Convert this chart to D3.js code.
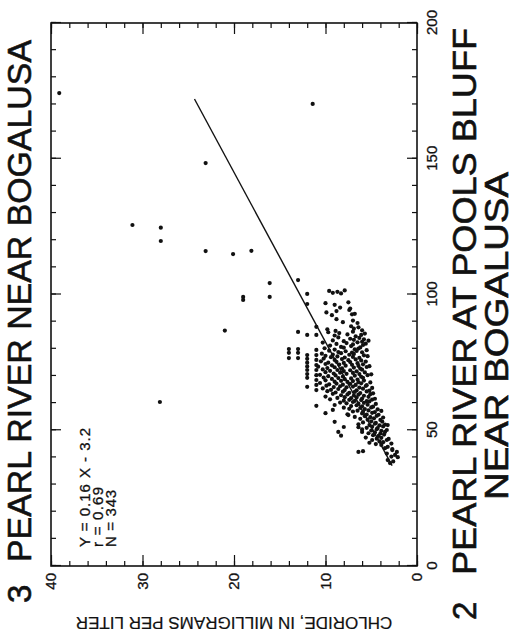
<!DOCTYPE html>
<html>
<head>
<meta charset="utf-8">
<script src="https://cdn.jsdelivr.net/npm/d3@7"></script>
<style>
  body { margin: 0; background: #fff; }
  svg { display: block; }
  text { font-family: "Liberation Sans", Arial, Helvetica, sans-serif; fill: #111; }
  .title { stroke: #111; stroke-width: 0.6; }
</style>
</head>
<body>
<svg id="chart" width="514" height="634"></svg>
<script>
// Chloride, in mg/L: [Pearl River at Pools Bluff (X), Pearl River near Bogalusa (Y)]
const poolsTicks = [0, 50, 100, 150, 200];
const bogalusaTicks = [0, 10, 20, 30, 40];

const isolatedSamples = [
  [174.2, 39.1], [170.2, 11.4], [148.4, 23.1], [125.6, 31.1], [124.6, 28.0],
  [119.7, 28.0], [116.0, 23.1], [114.9, 20.1], [116.1, 18.1], [104.2, 16.1],
  [105.3, 13.0], [99.1, 19.0], [98.0, 19.0], [99.1, 16.1], [86.7, 21.0],
  [60.4, 28.1]
];

// samples reported to the whole milligram
const wholeNumberSamples = [
  [79.9, 14], [78.5, 14], [76.6, 14],
  [86.2, 13], [79.9, 13], [78.5, 13], [76.6, 13],
  [100.2, 12], [96.5, 12], [85.1, 12], [77.7, 12], [76.3, 12], [74.9, 12],
  [73.5, 12], [72.2, 12], [70.7, 12], [69.3, 12], [66.0, 12],
  [88.1, 11], [85.1, 11], [79.6, 11], [77.7, 11], [75.9, 11], [74.0, 11],
  [72.2, 11], [70.3, 11], [68.5, 11], [66.7, 11], [64.8, 11], [59.0, 11]
];

const clusterSamples = [
  [101.3, 9.6], [100.6, 9.2], [101.0, 8.7], [100.4, 8.3], [101.5, 7.9],
  [96.8, 10], [96.2, 9], [97.1, 7.5],
  [95.2, 8.4], [94.8, 7.3],
  [93.9, 8.8], [94.3, 7.4],
  [93.4, 9.9], [92.7, 7.1], [92.4, 9.3], [92.9, 6.8],
  [90.9, 8.8],
  [89.8, 8.1], [90.4, 7.0], [89.5, 6.5],
  [88.3, 7.2], [87.9, 6.4],
  [87.2, 9.8], [86.6, 8.9], [87.4, 6.9], [86.8, 6.0],
  [86.1, 9.7], [85.8, 8.5], [86.3, 7.0], [85.6, 5.7],
  [84.9, 9.0], [85.3, 7.6], [84.6, 6.7], [85.1, 6.1],
  [84.2, 8.6], [83.7, 7.3], [84.0, 6.3], [83.5, 5.8],
  [83.1, 9.2], [82.8, 8.0], [83.3, 6.9], [82.6, 6.0], [83.0, 5.3],
  [82.3, 10.3], [81.8, 8.8], [82.1, 7.7], [81.6, 7.0], [82.4, 6.5], [81.9, 5.6],
  [81.2, 9.5], [80.7, 8.3], [81.0, 7.2], [80.5, 6.2], [81.4, 5.9],
  [80.2, 10.1], [79.7, 9.0], [80.4, 8.0], [79.8, 6.8], [80.1, 6.4], [79.5, 5.5],
  [79.3, 9.6], [78.8, 8.6], [79.1, 7.8], [78.6, 7.1], [79.2, 6.6], [78.7, 6.0],
  [78.2, 10.4], [77.9, 9.2], [78.4, 8.3], [77.8, 7.4], [78.1, 6.9], [77.6, 5.8],
  [77.4, 10], [76.9, 9.4], [77.2, 8.7], [76.8, 7.9], [77.0, 7.0], [76.7, 6.3], [77.3, 5.4],
  [76.4, 10.2], [75.9, 9.0], [76.2, 8.2], [75.8, 7.5], [76.1, 6.7], [75.7, 6.1],
  [75.4, 10.5], [74.9, 9.7], [75.2, 8.8], [74.8, 8.0], [75.1, 7.3], [74.7, 6.5], [75.3, 5.6],
  [74.4, 10], [73.9, 9.3], [74.2, 8.5], [73.8, 7.8], [74.1, 7.1], [73.7, 6.4], [74.3, 5.9], [73.6, 5.2],
  [73.4, 10.8], [72.9, 9.8], [73.2, 9.0], [72.8, 8.2], [73.1, 6.9], [72.7, 6.2], [73.3, 5.5],
  [72.4, 10.3], [71.9, 9.5], [72.2, 8.7], [71.8, 8.0], [72.1, 7.3], [71.7, 6.6], [72.3, 6.0],
  [71.4, 10], [70.9, 9.1], [71.2, 8.4], [70.8, 7.7], [71.1, 7.0], [70.7, 6.3], [71.3, 5.7], [70.6, 5.0],
  [70.4, 10.6], [69.9, 9.7], [70.2, 8.9], [69.8, 8.1], [70.1, 6.8], [69.7, 6.1], [70.3, 5.4],
  [69.4, 10.2], [68.9, 9.3], [69.2, 8.6], [68.8, 7.9], [69.1, 7.2], [68.7, 6.5], [69.3, 5.9],
  [68.4, 10], [67.9, 9.0], [68.2, 8.3], [67.8, 7.6], [68.1, 7.0], [67.7, 6.4], [68.3, 5.8], [67.6, 5.1],
  [67.4, 10.6], [66.9, 9.6], [67.2, 8.8], [66.8, 8.1], [67.1, 7.3], [66.7, 6.7], [67.3, 6.1], [66.6, 5.5],
  [66.4, 9.9], [65.9, 9.1], [66.2, 8.4], [65.8, 7.7], [66.1, 7.0], [65.7, 6.3], [66.3, 5.6], [65.6, 4.9],
  [65.4, 10.3], [64.9, 9.4], [65.2, 8.6], [64.8, 7.9], [64.7, 6.6], [65.3, 5.9], [64.6, 5.2],
  [64.4, 9.8], [63.9, 8.9], [64.2, 8.1], [63.8, 7.4], [64.1, 6.8], [63.7, 6.2], [64.3, 5.5], [63.6, 4.8],
  [63.4, 9.2], [62.9, 8.3], [63.2, 7.6], [62.8, 6.9], [63.1, 6.4], [62.7, 5.8], [63.3, 5.1],
  [62.4, 10.0], [61.9, 8.7], [62.2, 7.9], [61.8, 7.2], [62.1, 6.6], [61.7, 6.0], [62.3, 5.3], [61.6, 4.6],
  [61.4, 9.5], [60.9, 8.0], [61.2, 7.4], [60.8, 6.8], [61.1, 6.1], [60.7, 5.5], [61.3, 4.9],
  [60.2, 8.4], [59.9, 7.7], [60.4, 7.0], [59.8, 6.4], [60.1, 5.8], [60.6, 5.2], [59.7, 4.5],
  [59.3, 9.0], [58.9, 7.2], [59.2, 6.6], [58.8, 6.0], [59.4, 5.4], [58.7, 4.8],
  [58.3, 8.0], [57.9, 7.4], [58.2, 6.2], [57.8, 5.7], [58.4, 5.0], [57.7, 4.3],
  [57.5, 9.2], [56.9, 7.0], [57.2, 6.5], [56.8, 5.9], [57.3, 5.3], [56.7, 4.6], [57.1, 3.9],
  [56.3, 10.0], [55.9, 7.6], [56.2, 6.0], [55.8, 5.5], [56.4, 4.9], [55.7, 4.2],
  [55.6, 7.5], [54.9, 6.8], [55.2, 5.7], [54.8, 5.1], [55.3, 4.4], [54.7, 3.7],
  [54.2, 6.2], [53.9, 5.4], [54.4, 4.7], [53.8, 4.0],
  [53.1, 9.0], [52.9, 5.9], [53.3, 5.0], [52.7, 4.5], [53.2, 3.8],
  [52.2, 6.4], [51.9, 5.2], [52.4, 4.6], [51.8, 4.1], [52.1, 3.5], [51.9, 3.2],
  [51.2, 8.0], [51.1, 6.4], [50.9, 5.5], [51.3, 4.9], [50.8, 4.3], [51.4, 3.7],
  [50.3, 6.0], [49.9, 5.0], [50.4, 4.4], [49.8, 3.9], [50.1, 3.3],
  [49.4, 8.6], [49.4, 6.0], [48.9, 5.3], [49.2, 4.6], [48.8, 4.0], [49.4, 3.5],
  [48.0, 8.3], [48.2, 4.8], [47.9, 4.2], [48.4, 3.6],
  [47.3, 5.6], [46.9, 4.4], [47.2, 3.9], [46.8, 3.1],
  [46.4, 4.9], [45.9, 4.1], [46.4, 3.3],
  [45.4, 5.2], [44.9, 4.5], [45.6, 3.7], [45.1, 2.8],
  [44.6, 3.9], [43.9, 3.2],
  [43.4, 3.5], [43.1, 2.7],
  [42.0, 6.4], [42.3, 5.9], [42.7, 2.7], [42.0, 2.2],
  [41.4, 3.3], [40.9, 2.4],
  [40.3, 2.8], [40.1, 2.1],
  [39.0, 3.2],
  [37.9, 2.95], [38.5, 2.6]
];

const fit = { slope: 0.16, intercept: -3.2, r: 0.69, n: 343 };
const fitRange = [37, 172];

// The plot is laid out with Pools Bluff along x and Bogalusa along y,
// then the whole sheet is turned a quarter turn counter-clockwise.
const W = 543, H = 366;
const svg = d3.select("#chart");
const x = d3.scaleLinear().domain([0, 200]).range([0, W]);
const y = d3.scaleLinear().domain([0, 40]).range([H, 0]);

const g = svg.append("g").attr("transform", "translate(51,566) rotate(-90)");

const minorX = d3.range(0, 201, 10);
const minorY = d3.range(0, 41, 2);

function styleAxis(sel, size) {
  sel.select(".domain").remove();
  sel.selectAll(".tick line").attr("stroke", "#111").attr("stroke-width", 1.2);
  sel.attr("font-family", null).attr("font-size", size);
  sel.selectAll("text").attr("fill", "#111").attr("stroke", "#111").attr("stroke-width", 0.3);
}

// x axis: bottom with labels, mirrored on top
g.append("g").attr("transform", `translate(0,${H})`)
  .call(d3.axisBottom(x).tickValues(minorX).tickSize(-5).tickFormat(""))
  .call(styleAxis, 15);
g.append("g").attr("transform", `translate(0,${H})`)
  .call(d3.axisBottom(x).tickValues(poolsTicks).tickSize(-10).tickPadding(9).tickFormat(d3.format("d")))
  .call(styleAxis, 15);
g.append("g")
  .call(d3.axisTop(x).tickValues(minorX).tickSize(-5).tickFormat(""))
  .call(styleAxis, 15);
g.append("g")
  .call(d3.axisTop(x).tickValues(poolsTicks).tickSize(-10).tickFormat(""))
  .call(styleAxis, 15);

// y axis: left with labels, mirrored on right
g.append("g")
  .call(d3.axisLeft(y).tickValues(minorY).tickSize(-5).tickFormat(""))
  .call(styleAxis, 15);
g.append("g")
  .call(d3.axisLeft(y).tickValues(bogalusaTicks).tickSize(-11).tickPadding(7).tickFormat(d3.format("d")))
  .call(styleAxis, 15);
g.append("g").attr("transform", `translate(${W},0)`)
  .call(d3.axisRight(y).tickValues(minorY).tickSize(-5).tickFormat(""))
  .call(styleAxis, 15);
g.append("g").attr("transform", `translate(${W},0)`)
  .call(d3.axisRight(y).tickValues(bogalusaTicks).tickSize(-11).tickFormat(""))
  .call(styleAxis, 15);

// frame
g.append("rect")
  .attr("x", 0).attr("y", 0).attr("width", W).attr("height", H)
  .attr("fill", "none").attr("stroke", "#111").attr("stroke-width", 1.6);

// regression line
g.append("line")
  .attr("x1", x(fitRange[0])).attr("y1", y(fit.slope * fitRange[0] + fit.intercept))
  .attr("x2", x(fitRange[1])).attr("y2", y(fit.slope * fitRange[1] + fit.intercept))
  .attr("stroke", "#111").attr("stroke-width", 1.4);

// observations
const allSamples = isolatedSamples.concat(wholeNumberSamples, clusterSamples);
g.append("g").selectAll("circle")
  .data(allSamples)
  .join("circle")
  .attr("cx", d => x(d[0]))
  .attr("cy", d => y(d[1]))
  .attr("r", 2.1)
  .attr("fill", "#111");

// statistics
const stats = [
  { t: `Y = ${fit.slope} X - ${Math.abs(fit.intercept)}`, len: 119 },
  { t: `r = ${fit.r}`, len: 60 },
  { t: `N = ${fit.n}`, len: 57 }
];
g.append("g").selectAll("text")
  .data(stats)
  .join("text")
  .attr("x", 19)
  .attr("y", (d, i) => 39 + i * 13)
  .attr("font-size", 15)
  .attr("stroke", "#111").attr("stroke-width", 0.3)
  .attr("textLength", d => d.len)
  .text(d => d.t);

// station titles
g.append("text").attr("class", "title").attr("x", -37).attr("y", -20).attr("font-size", 33).text("3");
g.append("text").attr("class", "title").attr("x", 4).attr("y", -20).attr("font-size", 33)
  .attr("textLength", 522).attr("lengthAdjust", "spacingAndGlyphs")
  .text("PEARL RIVER NEAR BOGALUSA");

g.append("text").attr("class", "title").attr("x", -54).attr("y", 425).attr("font-size", 33).text("2");
g.append("text").attr("class", "title").attr("x", -9).attr("y", 425).attr("font-size", 33)
  .attr("textLength", 547).attr("lengthAdjust", "spacingAndGlyphs")
  .text("PEARL RIVER AT POOLS BLUFF");
g.append("text").attr("class", "title").attr("x", 66).attr("y", 457).attr("font-size", 33)
  .attr("textLength", 328).attr("lengthAdjust", "spacingAndGlyphs")
  .text("NEAR BOGALUSA");

// units label
g.append("text")
  .attr("transform", `translate(-51,${H / 2}) rotate(-90)`)
  .attr("text-anchor", "middle")
  .attr("font-size", 17)
  .attr("stroke", "#111").attr("stroke-width", 0.2)
  .text("CHLORIDE, IN MILLIGRAMS PER LITER");
</script>
</body>
</html>
